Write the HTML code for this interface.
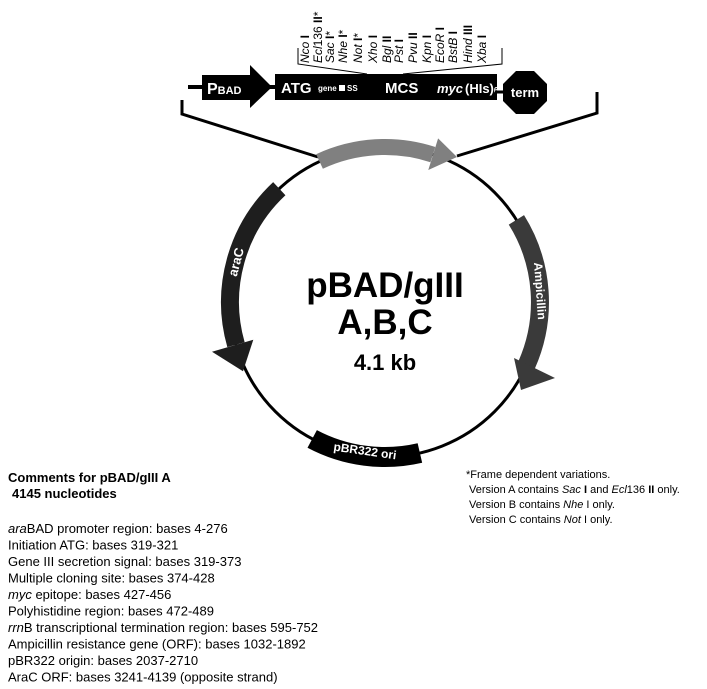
<!DOCTYPE html>
<html><head><meta charset="utf-8"><style>
html,body{margin:0;padding:0;background:#fff;}
svg{display:block;font-family:"Liberation Sans",Arial,sans-serif;}
</style></head><body>
<svg width="707" height="689" viewBox="0 0 707 689" xmlns="http://www.w3.org/2000/svg">
<!-- restriction sites -->
<g font-size="12" fill="#000">
<text transform="translate(309,63) rotate(-90)"><tspan font-style="italic">Nco</tspan><tspan font-weight="bold"> I</tspan></text>
<text transform="translate(322,63) rotate(-90)"><tspan font-style="italic">Ecl</tspan>136<tspan font-weight="bold"> II</tspan>*</text>
<text transform="translate(334,63) rotate(-90)"><tspan font-style="italic">Sac</tspan><tspan font-weight="bold"> I</tspan>*</text>
<text transform="translate(347,63) rotate(-90)"><tspan font-style="italic">Nhe</tspan><tspan font-weight="bold"> I</tspan>*</text>
<text transform="translate(362,63) rotate(-90)"><tspan font-style="italic">Not</tspan><tspan font-weight="bold"> I</tspan>*</text>
<text transform="translate(377,63) rotate(-90)"><tspan font-style="italic">Xho</tspan><tspan font-weight="bold"> I</tspan></text>
<text transform="translate(391,63) rotate(-90)"><tspan font-style="italic">Bgl</tspan><tspan font-weight="bold"> II</tspan></text>
<text transform="translate(403,63) rotate(-90)"><tspan font-style="italic">Pst</tspan><tspan font-weight="bold"> I</tspan></text>
<text transform="translate(417,63) rotate(-90)"><tspan font-style="italic">Pvu</tspan><tspan font-weight="bold"> II</tspan></text>
<text transform="translate(431,63) rotate(-90)"><tspan font-style="italic">Kpn</tspan><tspan font-weight="bold"> I</tspan></text>
<text transform="translate(444,63) rotate(-90)"><tspan font-style="italic">EcoR</tspan><tspan font-weight="bold"> I</tspan></text>
<text transform="translate(457,63) rotate(-90)"><tspan font-style="italic">BstB</tspan><tspan font-weight="bold"> I</tspan></text>
<text transform="translate(472,63) rotate(-90)"><tspan font-style="italic">Hind</tspan><tspan font-weight="bold"> III</tspan></text>
<text transform="translate(486,63) rotate(-90)"><tspan font-style="italic">Xba</tspan><tspan font-weight="bold"> I</tspan></text>
</g>
<polyline points="298,48 298,64 367,74" fill="none" stroke="#000" stroke-width="1"/>
<polyline points="502,48 502,64 403,74" fill="none" stroke="#000" stroke-width="1"/>
<!-- feature bar -->
<line x1="188" y1="87" x2="276" y2="87" stroke="#000" stroke-width="4"/>
<rect x="202" y="75" width="50" height="25" fill="#000"/>
<polygon points="250,65 272,87 250,108" fill="#000"/>
<text x="207" y="94" fill="#fff" font-weight="bold" font-size="16">P<tspan font-size="11">BAD</tspan></text>
<rect x="275" y="74" width="222" height="26" fill="#000"/>
<text x="281" y="93" fill="#fff" font-weight="bold" font-size="15">ATG</text>
<text x="318" y="91" fill="#fff" font-weight="bold" font-size="8">gene</text>
<rect x="339" y="85" width="6" height="6" fill="#fff"/>
<text x="347" y="91" fill="#fff" font-weight="bold" font-size="8">SS</text>
<text x="385" y="93" fill="#fff" font-weight="bold" font-size="15">MCS</text>
<text x="437" y="93" fill="#fff" font-weight="bold" font-style="italic" font-size="13">myc</text>
<text x="465" y="93" fill="#fff" font-weight="bold" font-size="13">(HIs)<tspan font-size="8">6</tspan></text>
<line x1="495" y1="92" x2="506" y2="92" stroke="#000" stroke-width="3"/>
<polygon points="516,71 534,71 547,84 547,101 534,114 516,114 503,101 503,84" fill="#000"/>
<text x="525" y="97" fill="#fff" font-weight="bold" font-size="13" text-anchor="middle">term</text>
<!-- bracket -->
<polyline points="182,100 182,114 318,157" fill="none" stroke="#000" stroke-width="3"/>
<polyline points="597,92 597,113 457,156" fill="none" stroke="#000" stroke-width="3"/>
<!-- plasmid -->
<circle cx="385" cy="302" r="155" fill="none" stroke="#000" stroke-width="3"/>
<path d="M319.5,161.5 A155,155 0 0 1 432.9,154.6" fill="none" stroke="#808080" stroke-width="16"/>
<polygon points="428.3,170 438.1,138.4 457,157" fill="#808080"/>
<path d="M279.3,188.7 A155,155 0 0 0 236,344.7" fill="none" stroke="#1e1e1e" stroke-width="18"/>
<polygon points="253.3,339.8 212,351.7 243,371.2" fill="#1e1e1e"/>
<path d="M516.4,219.9 A155,155 0 0 1 526.6,365" fill="none" stroke="#3a3a3a" stroke-width="18"/>
<polygon points="514,358 555,378 521,390" fill="#3a3a3a"/>
<path d="M419.9,453 A155,155 0 0 1 312.2,438.9" fill="none" stroke="#000" stroke-width="20"/>
<text transform="translate(236,262) rotate(-75)" fill="#fff" font-weight="bold" font-size="13" text-anchor="middle" dominant-baseline="central">araC</text>
<text transform="translate(540,291) rotate(86)" fill="#fff" font-weight="bold" font-size="12" text-anchor="middle" dominant-baseline="central">Ampicillin</text>
<text transform="translate(365,451) rotate(8)" fill="#fff" font-weight="bold" font-size="12" text-anchor="middle" dominant-baseline="central">pBR322 ori</text>
<text x="385" y="297" font-weight="bold" font-size="35" text-anchor="middle">pBAD/gIII</text>
<text x="385" y="334" font-weight="bold" font-size="35" text-anchor="middle">A,B,C</text>
<text x="385" y="370" font-weight="bold" font-size="22" text-anchor="middle">4.1 kb</text>
<!-- comments -->
<g font-size="13">
<text x="8" y="482" font-weight="bold">Comments for pBAD/gIII A</text>
<text x="12" y="498" font-weight="bold">4145 nucleotides</text>
<text x="8" y="533"><tspan font-style="italic">ara</tspan>BAD promoter region: bases 4-276</text>
<text x="8" y="549.5">Initiation ATG: bases 319-321</text>
<text x="8" y="566">Gene III secretion signal: bases 319-373</text>
<text x="8" y="582.5">Multiple cloning site: bases 374-428</text>
<text x="8" y="599"><tspan font-style="italic">myc</tspan> epitope: bases 427-456</text>
<text x="8" y="615.5">Polyhistidine region: bases 472-489</text>
<text x="8" y="632"><tspan font-style="italic">rrn</tspan>B transcriptional termination region: bases 595-752</text>
<text x="8" y="648.5">Ampicillin resistance gene (ORF): bases 1032-1892</text>
<text x="8" y="665">pBR322 origin: bases 2037-2710</text>
<text x="8" y="681.5">AraC ORF: bases 3241-4139 (opposite strand)</text>
</g>
<g font-size="11">
<text x="466" y="478">*Frame dependent variations.</text>
<text x="469" y="493">Version A contains <tspan font-style="italic">Sac</tspan> <tspan font-weight="bold">I</tspan> and <tspan font-style="italic">Ecl</tspan>136 <tspan font-weight="bold">II</tspan> only.</text>
<text x="469" y="508">Version B contains <tspan font-style="italic">Nhe</tspan> I only.</text>
<text x="469" y="523">Version C contains <tspan font-style="italic">Not</tspan> I only.</text>
</g>
</svg>
</body></html>
